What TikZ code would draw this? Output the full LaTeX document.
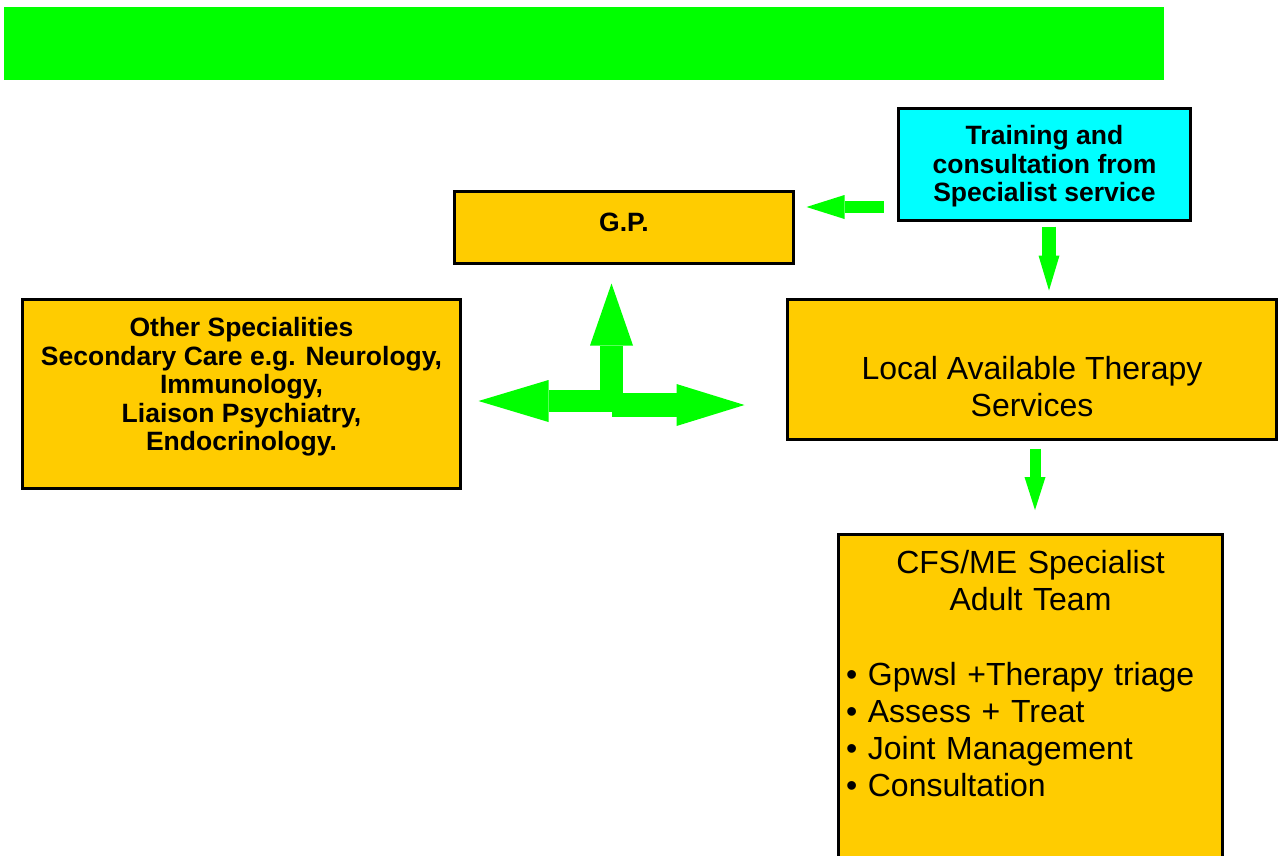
\documentclass[tikz,border=0pt]{standalone}
\usepackage{fontspec}
\setmainfont{Liberation Sans}
\usetikzlibrary{
        calc,
        arrows.meta
    }
\definecolor{boxyellow}{RGB}{255,204,0}
\definecolor{boxcyan}{RGB}{0,255,255}
\definecolor{flowgreen}{RGB}{0,255,0}

\begin{document}
\begin{tikzpicture}
[x=1pt, y=-1pt,
baseshape/.style={rectangle, draw=black, line width=3pt, inner sep=0pt},
service/.style={baseshape, fill=boxyellow},
training/.style={baseshape, fill=boxcyan},
boldtext/.style={font=\fontsize{26.5}{28.5}\selectfont\bfseries, align=center},
plaintext/.style={font=\fontsize{32}{37}\selectfont, align=center},
blockarrow/.style n args={3}{draw=flowgreen, line width=#1pt, -{Triangle[length=#2pt, width=#3pt, line width=0pt]}},
]
    \useasboundingbox (0,0) rectangle (1285,855);
    \clip (0,0) rectangle (1285,855);
    \node (header) [fill=flowgreen, inner sep=0pt, minimum width=1160pt, minimum height=73pt] at (584,43.5) {};
    \node (train) [training, minimum width=292pt, minimum height=112pt, label={[boldtext, yshift=-2pt]center:{Training and\\consultation from\\Specialist service}}] at (1044.5,164.5) {};
    \node (gp) [service, minimum width=339pt, minimum height=72pt, label={[boldtext, yshift=5.5pt]center:G.P.}] at (624,227.5) {};
    \node (other) [service, minimum width=438pt, minimum height=189pt, label={[boldtext, yshift=7pt]center:{Other Specialities\\Secondary Care e.g. Neurology,\\Immunology,\\Liaison Psychiatry,\\Endocrinology.}}] at (241.5,394) {};
    \node (local) [service, minimum width=489pt, minimum height=140pt, label={[plaintext, yshift=-17pt]center:{Local Available Therapy\\Services}}] at (1032,369.5) {};
    \node (cfs) [service, anchor=north, minimum width=384pt, minimum height=360pt, label={[plaintext, anchor=north, yshift=-14pt, text width=369pt, align=left]north:{{\centering CFS/ME Specialist\\Adult Team\endgraf}\vspace{38pt}\noindent\textbullet\ Gpwsl +Therapy triage\\\textbullet\ Assess + Treat\\\textbullet\ Joint Management\\\textbullet\ Consultation}}] at (1030.5,532.5) {};
    \coordinate (hub) at (612,405);
    \draw[blockarrow={12}{38}{24}, shorten <=13.5pt, shorten >=11.5pt] ($(train.west)+(0,42.5)$) -- ($(gp.east)+(0,-20.5)$);
    \draw[blockarrow={14}{35}{21}, shorten <=4.5pt, shorten >=7.5pt] ($(train.south)+(4.5,0)$) -- ($(local.north)+(17,0)$);
    \draw[blockarrow={11}{33}{21}, shorten <=7.5pt, shorten >=22.5pt] ($(local.south)+(3,0)$) -- ($(cfs.north)+(4.5,0)$);
    \draw[blockarrow={23}{62}{43}, shorten >=18.5pt] ($(hub)+(-0.5,7)$) -- ($(gp.south)+(-12.5,0)$);
    \draw[blockarrow={22}{70}{42}, shorten >=16.5pt] ($(hub)+(11,-4)$) -- ($(other.east)+(0,7)$);
    \draw[blockarrow={24}{68}{42}, shorten >=41.5pt] (hub) -- ($(local.west)+(0,35.5)$);
\end{tikzpicture}
\end{document}
